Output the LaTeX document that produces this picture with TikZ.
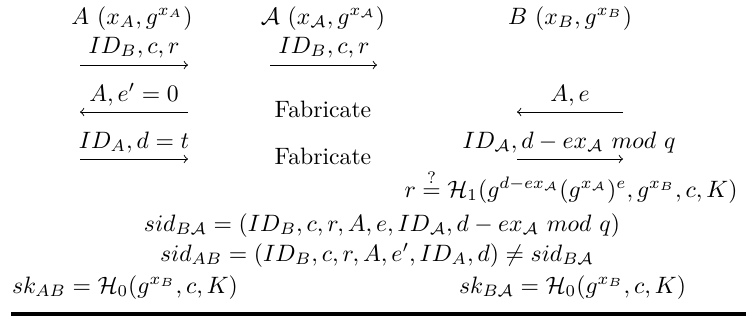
\documentclass[tikz,border=0pt]{standalone}
\usepackage{amsmath,amssymb}
\begin{document}
\begin{tikzpicture}[x=0.422pt,y=-0.422pt,
  lbl/.style={anchor=base, inner sep=0pt, outer sep=0pt},
  msg/.style={-to, line width=0.4pt}]
\useasboundingbox (0,0) rectangle (746,323);
% header
\node[lbl] (hA) at (132,24) {$A\ (x_A, g^{x_A})$};
\node[lbl] (hAA) at (323,24) {$\mathcal{A}\ (x_{\mathcal{A}}, g^{x_{\mathcal{A}}})$};
\node[lbl] (hB) at (570,24) {$B\ (x_B, g^{x_B})$};
% row 2
\node[lbl] (m1) at (134,53) {$ID_B, c, r$};
\coordinate (a1s) at (80,65); \coordinate (a1e) at (188,65);
\draw[msg] (a1s) -- (a1e);
\node[lbl] (m2) at (324,53) {$ID_B, c, r$};
\coordinate (a2s) at (270,65); \coordinate (a2e) at (377,65);
\draw[msg] (a2s) -- (a2e);
% row 3
\node[lbl] (m3) at (134,101) {$A, e' = 0$};
\coordinate (a3s) at (188,112); \coordinate (a3e) at (80,112);
\draw[msg] (a3s) -- (a3e);
\node[lbl] (f1) at (323,117) {Fabricate};
\node[lbl] (m4) at (570,101) {$A, e$};
\coordinate (a4s) at (623,112); \coordinate (a4e) at (517,112);
\draw[msg] (a4s) -- (a4e);
% row 4
\node[lbl] (m5) at (134,148) {$ID_A, d = t$};
\coordinate (a5s) at (80,159); \coordinate (a5e) at (188,159);
\draw[msg] (a5s) -- (a5e);
\node[lbl] (f2) at (323,164) {Fabricate};
\node[lbl] (m6) at (569,148) {$ID_{\mathcal{A}}, d - ex_{\mathcal{A}}\ mod\ q$};
\coordinate (a6s) at (517,159); \coordinate (a6e) at (623,159);
\draw[msg] (a6s) -- (a6e);
% checks
\node[lbl] (chk) at (571,197) {$r \stackrel{?}{=} \mathcal{H}_1(g^{d-ex_{\mathcal{A}}}(g^{x_{\mathcal{A}}})^e, g^{x_B}, c, K)$};
\node[lbl] (sid1) at (382,231) {$sid_{B\mathcal{A}} = (ID_B, c, r, A, e, ID_{\mathcal{A}}, d - ex_{\mathcal{A}}\ mod\ q)$};
\node[lbl] (sid2) at (377,261) {$sid_{AB} = (ID_B, c, r, A, e', ID_A, d) \neq sid_{B\mathcal{A}}$};
\node[lbl, anchor=base west] (skA) at (12,293) {$sk_{AB} = \mathcal{H}_0(g^{x_B}, c, K)$};
\node[lbl, anchor=base east] (skB) at (686,293) {$sk_{B\mathcal{A}} = \mathcal{H}_0(g^{x_B}, c, K)$};
\coordinate (ls) at (11,314); \coordinate (le) at (746,314);
\draw[line width=1.5pt] (ls) -- (le);
\end{tikzpicture}
\end{document}
